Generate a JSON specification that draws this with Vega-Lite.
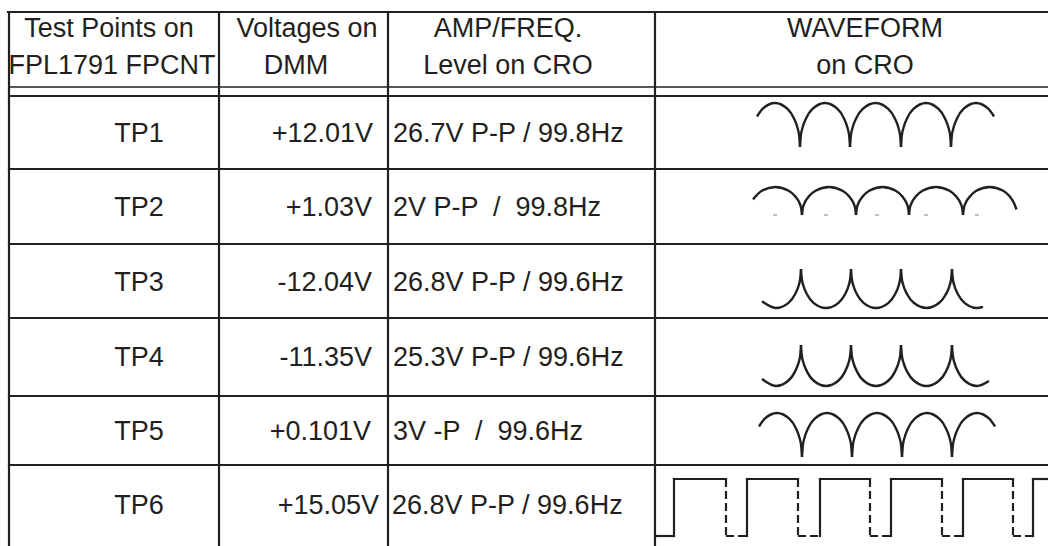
{
  "$schema": "https://vega.github.io/schema/vega-lite/v6.json",
  "width": 1048,
  "height": 546,
  "padding": 0,
  "autosize": {"type": "none"},
  "background": "white",
  "config": {"view": {"stroke": null}},
  "datasets": {
    "grid": [
      {"x": 8, "y": 12, "x2": 1048, "y2": 12},
      {"x": 9, "y": 12, "x2": 9, "y2": 546},
      {"x": 219, "y": 12, "x2": 219, "y2": 546},
      {"x": 388, "y": 12, "x2": 388, "y2": 546},
      {"x": 655, "y": 12, "x2": 655, "y2": 546},
      {"x": 9, "y": 96, "x2": 1048, "y2": 96},
      {"x": 9, "y": 169, "x2": 1048, "y2": 169},
      {"x": 9, "y": 244, "x2": 1048, "y2": 244},
      {"x": 9, "y": 318, "x2": 1048, "y2": 318},
      {"x": 9, "y": 396, "x2": 1048, "y2": 396},
      {"x": 9, "y": 465, "x2": 1048, "y2": 465}
    ],
    "thin": [
      {"x": 9, "y": 87, "x2": 1048, "y2": 87}
    ],
    "ctext": [
      {"x": 109, "y": 37, "t": "Test Points on"},
      {"x": 112, "y": 74, "t": "FPL1791 FPCNT"},
      {"x": 307, "y": 37, "t": "Voltages on"},
      {"x": 296, "y": 74, "t": "DMM"},
      {"x": 508, "y": 37, "t": "AMP/FREQ."},
      {"x": 508, "y": 74, "t": "Level on CRO"},
      {"x": 865, "y": 37, "t": "WAVEFORM"},
      {"x": 865, "y": 74, "t": "on CRO"},
      {"x": 139, "y": 142, "t": "TP1"},
      {"x": 139, "y": 216, "t": "TP2"},
      {"x": 139, "y": 291, "t": "TP3"},
      {"x": 139, "y": 366, "t": "TP4"},
      {"x": 139, "y": 440, "t": "TP5"},
      {"x": 139, "y": 514, "t": "TP6"}
    ],
    "rtext": [
      {"x": 373, "y": 142, "t": "+12.01V"},
      {"x": 372, "y": 216, "t": "+1.03V"},
      {"x": 372, "y": 291, "t": "-12.04V"},
      {"x": 372, "y": 366, "t": "-11.35V"},
      {"x": 371, "y": 440, "t": "+0.101V"},
      {"x": 379, "y": 514, "t": "+15.05V"}
    ],
    "ltext": [
      {"x": 393, "y": 142, "t": "26.7V P-P / 99.8Hz"},
      {"x": 393, "y": 216, "t": "2V P-P \u00a0/ \u00a099.8Hz"},
      {"x": 393, "y": 291, "t": "26.8V P-P / 99.6Hz"},
      {"x": 393, "y": 366, "t": "25.3V P-P / 99.6Hz"},
      {"x": 393, "y": 440, "t": "3V -P \u00a0/ \u00a099.6Hz"},
      {"x": 392, "y": 514, "t": "26.8V P-P / 99.6Hz"}
    ],
    "wave": [
      {"g": "a1", "x": 757, "y": 116.5}, {"g": "a1", "x": 762.5, "y": 108.9}, {"g": "a1", "x": 775, "y": 103}, {"g": "a1", "x": 787.5, "y": 108.9}, {"g": "a1", "x": 793.75, "y": 117.9}, {"g": "a1", "x": 797.5, "y": 127.8}, {"g": "a1", "x": 799.25, "y": 136.3}, {"g": "a1", "x": 800, "y": 147},
      {"g": "a2", "x": 800, "y": 147}, {"g": "a2", "x": 800.75, "y": 136.3}, {"g": "a2", "x": 802.5, "y": 127.8}, {"g": "a2", "x": 806.25, "y": 117.9}, {"g": "a2", "x": 812.5, "y": 108.9}, {"g": "a2", "x": 825, "y": 103}, {"g": "a2", "x": 837.5, "y": 108.9}, {"g": "a2", "x": 843.75, "y": 117.9}, {"g": "a2", "x": 847.5, "y": 127.8}, {"g": "a2", "x": 849.25, "y": 136.3}, {"g": "a2", "x": 850, "y": 147},
      {"g": "a3", "x": 850, "y": 147}, {"g": "a3", "x": 850.8, "y": 136.3}, {"g": "a3", "x": 852.55, "y": 127.8}, {"g": "a3", "x": 856.4, "y": 117.9}, {"g": "a3", "x": 862.75, "y": 108.9}, {"g": "a3", "x": 875.5, "y": 103}, {"g": "a3", "x": 888.25, "y": 108.9}, {"g": "a3", "x": 894.6, "y": 117.9}, {"g": "a3", "x": 898.45, "y": 127.8}, {"g": "a3", "x": 900.2, "y": 136.3}, {"g": "a3", "x": 901, "y": 147},
      {"g": "a4", "x": 901, "y": 147}, {"g": "a4", "x": 901.75, "y": 136.3}, {"g": "a4", "x": 903.5, "y": 127.8}, {"g": "a4", "x": 907.25, "y": 117.9}, {"g": "a4", "x": 913.5, "y": 108.9}, {"g": "a4", "x": 926, "y": 103}, {"g": "a4", "x": 938.5, "y": 108.9}, {"g": "a4", "x": 944.75, "y": 117.9}, {"g": "a4", "x": 948.5, "y": 127.8}, {"g": "a4", "x": 950.25, "y": 136.3}, {"g": "a4", "x": 951, "y": 147},
      {"g": "a5", "x": 951, "y": 147}, {"g": "a5", "x": 951.75, "y": 136.3}, {"g": "a5", "x": 953.5, "y": 127.8}, {"g": "a5", "x": 957.25, "y": 117.9}, {"g": "a5", "x": 963.5, "y": 108.9}, {"g": "a5", "x": 976, "y": 103}, {"g": "a5", "x": 988.5, "y": 108.9}, {"g": "a5", "x": 994, "y": 116.5},

      {"g": "b1", "x": 753, "y": 199.4}, {"g": "b1", "x": 761.85, "y": 190.8}, {"g": "b1", "x": 775.25, "y": 187}, {"g": "b1", "x": 788.65, "y": 190.8}, {"g": "b1", "x": 795.35, "y": 196.5}, {"g": "b1", "x": 799.35, "y": 202.8}, {"g": "b1", "x": 801.15, "y": 208.2}, {"g": "b1", "x": 802, "y": 215},
      {"g": "b2", "x": 802, "y": 215}, {"g": "b2", "x": 802.8, "y": 208.2}, {"g": "b2", "x": 804.7, "y": 202.8}, {"g": "b2", "x": 808.75, "y": 196.5}, {"g": "b2", "x": 815.5, "y": 190.8}, {"g": "b2", "x": 829, "y": 187}, {"g": "b2", "x": 842.5, "y": 190.8}, {"g": "b2", "x": 849.25, "y": 196.5}, {"g": "b2", "x": 853.3, "y": 202.8}, {"g": "b2", "x": 855.2, "y": 208.2}, {"g": "b2", "x": 856, "y": 215},
      {"g": "b3", "x": 856, "y": 215}, {"g": "b3", "x": 856.8, "y": 208.2}, {"g": "b3", "x": 858.65, "y": 202.8}, {"g": "b3", "x": 862.6, "y": 196.5}, {"g": "b3", "x": 869.25, "y": 190.8}, {"g": "b3", "x": 882.5, "y": 187}, {"g": "b3", "x": 895.75, "y": 190.8}, {"g": "b3", "x": 902.4, "y": 196.5}, {"g": "b3", "x": 906.35, "y": 202.8}, {"g": "b3", "x": 908.2, "y": 208.2}, {"g": "b3", "x": 909, "y": 215},
      {"g": "b4", "x": 909, "y": 215}, {"g": "b4", "x": 909.8, "y": 208.2}, {"g": "b4", "x": 911.7, "y": 202.8}, {"g": "b4", "x": 915.75, "y": 196.5}, {"g": "b4", "x": 922.5, "y": 190.8}, {"g": "b4", "x": 936, "y": 187}, {"g": "b4", "x": 949.5, "y": 190.8}, {"g": "b4", "x": 956.25, "y": 196.5}, {"g": "b4", "x": 960.3, "y": 202.8}, {"g": "b4", "x": 962.2, "y": 208.2}, {"g": "b4", "x": 963, "y": 215},
      {"g": "b5", "x": 963, "y": 215}, {"g": "b5", "x": 963.85, "y": 208.2}, {"g": "b5", "x": 965.75, "y": 202.8}, {"g": "b5", "x": 969.85, "y": 196.5}, {"g": "b5", "x": 976.35, "y": 190.8}, {"g": "b5", "x": 989.75, "y": 187}, {"g": "b5", "x": 1003.15, "y": 190.8}, {"g": "b5", "x": 1009.85, "y": 196.5}, {"g": "b5", "x": 1013.85, "y": 202.8}, {"g": "b5", "x": 1016.5, "y": 209.5},

      {"g": "c1", "x": 762, "y": 301.3}, {"g": "c1", "x": 776, "y": 308}, {"g": "c1", "x": 788.5, "y": 302.8}, {"g": "c1", "x": 794.75, "y": 294.8}, {"g": "c1", "x": 798.5, "y": 286}, {"g": "c1", "x": 800.25, "y": 278.5}, {"g": "c1", "x": 801, "y": 269},
      {"g": "c2", "x": 801, "y": 269}, {"g": "c2", "x": 801.75, "y": 278.5}, {"g": "c2", "x": 803.5, "y": 286}, {"g": "c2", "x": 807.25, "y": 294.8}, {"g": "c2", "x": 813.5, "y": 302.8}, {"g": "c2", "x": 826, "y": 308}, {"g": "c2", "x": 838.5, "y": 302.8}, {"g": "c2", "x": 844.75, "y": 294.8}, {"g": "c2", "x": 848.5, "y": 286}, {"g": "c2", "x": 850.25, "y": 278.5}, {"g": "c2", "x": 851, "y": 269},
      {"g": "c3", "x": 851, "y": 269}, {"g": "c3", "x": 851.75, "y": 278.5}, {"g": "c3", "x": 853.5, "y": 286}, {"g": "c3", "x": 857.25, "y": 294.8}, {"g": "c3", "x": 863.5, "y": 302.8}, {"g": "c3", "x": 876, "y": 308}, {"g": "c3", "x": 888.5, "y": 302.8}, {"g": "c3", "x": 894.75, "y": 294.8}, {"g": "c3", "x": 898.5, "y": 286}, {"g": "c3", "x": 900.25, "y": 278.5}, {"g": "c3", "x": 901, "y": 269},
      {"g": "c4", "x": 901, "y": 269}, {"g": "c4", "x": 901.8, "y": 278.5}, {"g": "c4", "x": 903.55, "y": 286}, {"g": "c4", "x": 907.4, "y": 294.8}, {"g": "c4", "x": 913.75, "y": 302.8}, {"g": "c4", "x": 926.5, "y": 308}, {"g": "c4", "x": 939.25, "y": 302.8}, {"g": "c4", "x": 945.6, "y": 294.8}, {"g": "c4", "x": 949.45, "y": 286}, {"g": "c4", "x": 951.2, "y": 278.5}, {"g": "c4", "x": 952, "y": 269},
      {"g": "c5", "x": 952, "y": 269}, {"g": "c5", "x": 952.75, "y": 278.5}, {"g": "c5", "x": 954.5, "y": 286}, {"g": "c5", "x": 958.25, "y": 294.8}, {"g": "c5", "x": 964.5, "y": 302.8}, {"g": "c5", "x": 977, "y": 308}, {"g": "c5", "x": 983, "y": 306.8},

      {"g": "d1", "x": 762, "y": 379}, {"g": "d1", "x": 776, "y": 386}, {"g": "d1", "x": 788.5, "y": 380.5}, {"g": "d1", "x": 794.75, "y": 372.1}, {"g": "d1", "x": 798.5, "y": 362.9}, {"g": "d1", "x": 800.25, "y": 355}, {"g": "d1", "x": 801, "y": 345},
      {"g": "d2", "x": 801, "y": 345}, {"g": "d2", "x": 801.75, "y": 355}, {"g": "d2", "x": 803.5, "y": 362.9}, {"g": "d2", "x": 807.25, "y": 372.1}, {"g": "d2", "x": 813.5, "y": 380.5}, {"g": "d2", "x": 826, "y": 386}, {"g": "d2", "x": 838.5, "y": 380.5}, {"g": "d2", "x": 844.75, "y": 372.1}, {"g": "d2", "x": 848.5, "y": 362.9}, {"g": "d2", "x": 850.25, "y": 355}, {"g": "d2", "x": 851, "y": 345},
      {"g": "d3", "x": 851, "y": 345}, {"g": "d3", "x": 851.75, "y": 355}, {"g": "d3", "x": 853.5, "y": 362.9}, {"g": "d3", "x": 857.25, "y": 372.1}, {"g": "d3", "x": 863.5, "y": 380.5}, {"g": "d3", "x": 876, "y": 386}, {"g": "d3", "x": 888.5, "y": 380.5}, {"g": "d3", "x": 894.75, "y": 372.1}, {"g": "d3", "x": 898.5, "y": 362.9}, {"g": "d3", "x": 900.25, "y": 355}, {"g": "d3", "x": 901, "y": 345},
      {"g": "d4", "x": 901, "y": 345}, {"g": "d4", "x": 901.8, "y": 355}, {"g": "d4", "x": 903.55, "y": 362.9}, {"g": "d4", "x": 907.4, "y": 372.1}, {"g": "d4", "x": 913.75, "y": 380.5}, {"g": "d4", "x": 926.5, "y": 386}, {"g": "d4", "x": 939.25, "y": 380.5}, {"g": "d4", "x": 945.6, "y": 372.1}, {"g": "d4", "x": 949.45, "y": 362.9}, {"g": "d4", "x": 951.2, "y": 355}, {"g": "d4", "x": 952, "y": 345},
      {"g": "d5", "x": 952, "y": 345}, {"g": "d5", "x": 952.75, "y": 355}, {"g": "d5", "x": 954.5, "y": 362.9}, {"g": "d5", "x": 958.25, "y": 372.1}, {"g": "d5", "x": 964.5, "y": 380.5}, {"g": "d5", "x": 977, "y": 386}, {"g": "d5", "x": 989, "y": 381},

      {"g": "e1", "x": 759, "y": 426.5}, {"g": "e1", "x": 764.5, "y": 418.9}, {"g": "e1", "x": 777, "y": 413}, {"g": "e1", "x": 789.5, "y": 418.9}, {"g": "e1", "x": 795.75, "y": 427.9}, {"g": "e1", "x": 799.5, "y": 437.8}, {"g": "e1", "x": 801.25, "y": 446.3}, {"g": "e1", "x": 802, "y": 457},
      {"g": "e2", "x": 802, "y": 457}, {"g": "e2", "x": 802.75, "y": 446.3}, {"g": "e2", "x": 804.5, "y": 437.8}, {"g": "e2", "x": 808.25, "y": 427.9}, {"g": "e2", "x": 814.5, "y": 418.9}, {"g": "e2", "x": 827, "y": 413}, {"g": "e2", "x": 839.5, "y": 418.9}, {"g": "e2", "x": 845.75, "y": 427.9}, {"g": "e2", "x": 849.5, "y": 437.8}, {"g": "e2", "x": 851.25, "y": 446.3}, {"g": "e2", "x": 852, "y": 457},
      {"g": "e3", "x": 852, "y": 457}, {"g": "e3", "x": 852.75, "y": 446.3}, {"g": "e3", "x": 854.5, "y": 437.8}, {"g": "e3", "x": 858.25, "y": 427.9}, {"g": "e3", "x": 864.5, "y": 418.9}, {"g": "e3", "x": 877, "y": 413}, {"g": "e3", "x": 889.5, "y": 418.9}, {"g": "e3", "x": 895.75, "y": 427.9}, {"g": "e3", "x": 899.5, "y": 437.8}, {"g": "e3", "x": 901.25, "y": 446.3}, {"g": "e3", "x": 902, "y": 457},
      {"g": "e4", "x": 902, "y": 457}, {"g": "e4", "x": 902.75, "y": 446.3}, {"g": "e4", "x": 904.5, "y": 437.8}, {"g": "e4", "x": 908.25, "y": 427.9}, {"g": "e4", "x": 914.5, "y": 418.9}, {"g": "e4", "x": 927, "y": 413}, {"g": "e4", "x": 939.5, "y": 418.9}, {"g": "e4", "x": 945.75, "y": 427.9}, {"g": "e4", "x": 949.5, "y": 437.8}, {"g": "e4", "x": 951.25, "y": 446.3}, {"g": "e4", "x": 952, "y": 457},
      {"g": "e5", "x": 952, "y": 457}, {"g": "e5", "x": 952.75, "y": 446.3}, {"g": "e5", "x": 954.5, "y": 437.8}, {"g": "e5", "x": 958.25, "y": 427.9}, {"g": "e5", "x": 964.5, "y": 418.9}, {"g": "e5", "x": 977, "y": 413}, {"g": "e5", "x": 989.5, "y": 418.9}, {"g": "e5", "x": 995, "y": 426.5}
    ],
    "sqsolid": [
      {"x": 655, "y": 536, "x2": 674, "y2": 536},
      {"x": 674, "y": 536, "x2": 674, "y2": 479},
      {"x": 674, "y": 479, "x2": 726, "y2": 479},
      {"x": 747, "y": 536, "x2": 747, "y2": 479},
      {"x": 747, "y": 479, "x2": 798, "y2": 479},
      {"x": 820, "y": 536, "x2": 820, "y2": 479},
      {"x": 820, "y": 479, "x2": 870, "y2": 479},
      {"x": 891, "y": 536, "x2": 891, "y2": 479},
      {"x": 891, "y": 479, "x2": 942, "y2": 479},
      {"x": 963, "y": 536, "x2": 963, "y2": 479},
      {"x": 963, "y": 479, "x2": 1013, "y2": 479},
      {"x": 1033, "y": 536, "x2": 1033, "y2": 479},
      {"x": 1033, "y": 479, "x2": 1048, "y2": 479}
    ],
    "sqdash": [
      {"x": 726, "y": 479, "x2": 726, "y2": 536},
      {"x": 726, "y": 536, "x2": 747, "y2": 536},
      {"x": 798, "y": 479, "x2": 798, "y2": 536},
      {"x": 798, "y": 536, "x2": 820, "y2": 536},
      {"x": 870, "y": 479, "x2": 870, "y2": 536},
      {"x": 870, "y": 536, "x2": 891, "y2": 536},
      {"x": 942, "y": 479, "x2": 942, "y2": 536},
      {"x": 942, "y": 536, "x2": 963, "y2": 536},
      {"x": 1013, "y": 479, "x2": 1013, "y2": 536},
      {"x": 1013, "y": 536, "x2": 1033, "y2": 536}
    ],
    "ticks": [
      {"x": 773, "y": 215, "x2": 777, "y2": 215},
      {"x": 824, "y": 215, "x2": 828, "y2": 215},
      {"x": 875, "y": 215, "x2": 879, "y2": 215},
      {"x": 924, "y": 215, "x2": 928, "y2": 215},
      {"x": 975, "y": 215, "x2": 979, "y2": 215}
    ]
  },
  "layer": [
    {
      "data": {"name": "grid"},
      "mark": {"type": "rule", "color": "#231f20", "strokeWidth": 2.2, "strokeCap": "square"},
      "encoding": {
        "x": {"field": "x", "type": "quantitative", "scale": {"domain": [0, 1048], "nice": false, "zero": false}, "axis": null},
        "y": {"field": "y", "type": "quantitative", "scale": {"domain": [0, 546], "nice": false, "zero": false, "reverse": true}, "axis": null},
        "x2": {"field": "x2"},
        "y2": {"field": "y2"}
      }
    },
    {
      "data": {"name": "thin"},
      "mark": {"type": "rule", "color": "#231f20", "strokeWidth": 1.3},
      "encoding": {
        "x": {"field": "x", "type": "quantitative"},
        "y": {"field": "y", "type": "quantitative"},
        "x2": {"field": "x2"},
        "y2": {"field": "y2"}
      }
    },
    {
      "data": {"name": "ticks"},
      "mark": {"type": "rule", "color": "#aaaaaa", "strokeWidth": 1.5},
      "encoding": {
        "x": {"field": "x", "type": "quantitative"},
        "y": {"field": "y", "type": "quantitative"},
        "x2": {"field": "x2"},
        "y2": {"field": "y2"}
      }
    },
    {
      "data": {"name": "wave"},
      "mark": {"type": "line", "color": "#231f20", "strokeWidth": 2.4, "interpolate": "monotone"},
      "encoding": {
        "x": {"field": "x", "type": "quantitative"},
        "y": {"field": "y", "type": "quantitative"},
        "detail": {"field": "g", "type": "nominal"}
      }
    },
    {
      "data": {"name": "sqsolid"},
      "mark": {"type": "rule", "color": "#231f20", "strokeWidth": 2.2, "strokeCap": "square"},
      "encoding": {
        "x": {"field": "x", "type": "quantitative"},
        "y": {"field": "y", "type": "quantitative"},
        "x2": {"field": "x2"},
        "y2": {"field": "y2"}
      }
    },
    {
      "data": {"name": "sqdash"},
      "mark": {"type": "rule", "color": "#231f20", "strokeWidth": 2.2, "strokeDash": [8, 4]},
      "encoding": {
        "x": {"field": "x", "type": "quantitative"},
        "y": {"field": "y", "type": "quantitative"},
        "x2": {"field": "x2"},
        "y2": {"field": "y2"}
      }
    },
    {
      "data": {"name": "ctext"},
      "mark": {"type": "text", "font": "Liberation Sans", "fontSize": 27, "align": "center", "baseline": "alphabetic", "color": "#231f20"},
      "encoding": {
        "x": {"field": "x", "type": "quantitative"},
        "y": {"field": "y", "type": "quantitative"},
        "text": {"field": "t"}
      }
    },
    {
      "data": {"name": "rtext"},
      "mark": {"type": "text", "font": "Liberation Sans", "fontSize": 27, "align": "right", "baseline": "alphabetic", "color": "#231f20"},
      "encoding": {
        "x": {"field": "x", "type": "quantitative"},
        "y": {"field": "y", "type": "quantitative"},
        "text": {"field": "t"}
      }
    },
    {
      "data": {"name": "ltext"},
      "mark": {"type": "text", "font": "Liberation Sans", "fontSize": 27, "align": "left", "baseline": "alphabetic", "color": "#231f20"},
      "encoding": {
        "x": {"field": "x", "type": "quantitative"},
        "y": {"field": "y", "type": "quantitative"},
        "text": {"field": "t"}
      }
    }
  ]
}
